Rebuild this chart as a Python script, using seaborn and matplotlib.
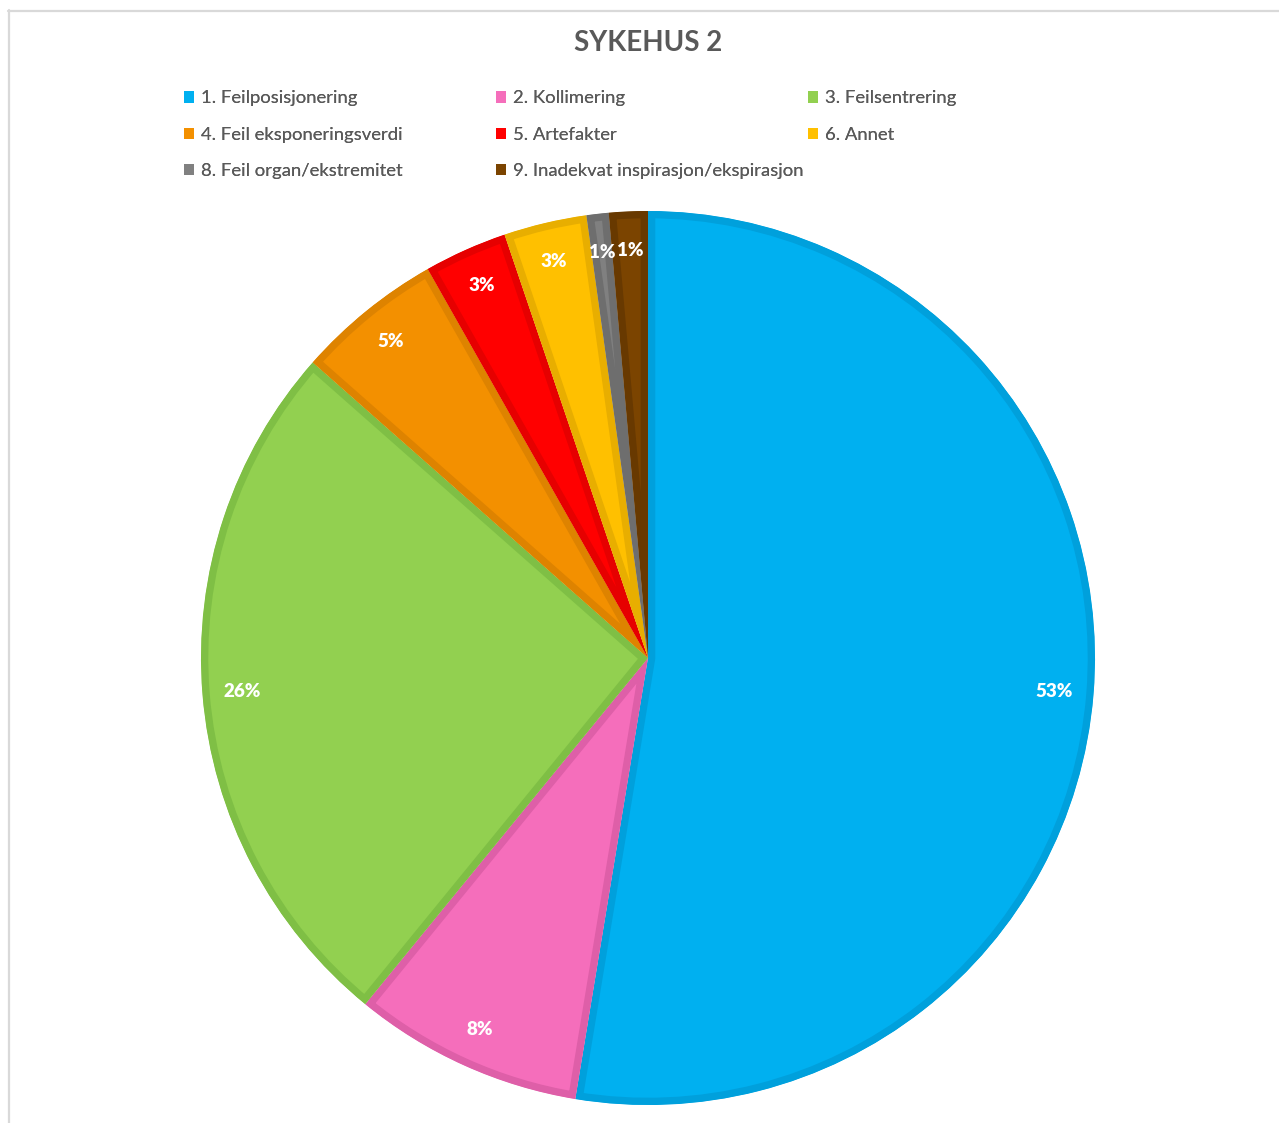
import matplotlib
matplotlib.use("Agg")
import matplotlib.pyplot as plt
import seaborn as sns
from matplotlib.patches import Patch
from matplotlib.lines import Line2D

categories = ["1. Feilposisjonering", "2. Kollimering", "3. Feilsentrering",
              "4. Feil eksponeringsverdi", "5. Artefakter", "6. Annet",
              "8. Feil organ/ekstremitet", "9. Inadekvat inspirasjon/ekspirasjon"]
values = [52.6, 8.3, 25.6, 5.3, 3.0, 3.0, 0.8, 1.4]
fill_colors = ["#00B0F0", "#F56EBB", "#92D050", "#F39000", "#FF0000", "#FFC000", "#808080", "#7B4400"]
edge_colors = ["#00A0DC", "#DE5FA8", "#7FBF45", "#DE8300", "#E60000", "#E8AE00", "#6E6E6E", "#683900"]
title = "SYKEHUS 2"

sns.set_theme(style="white")
plt.rcParams['font.family'] = ['Lato', 'DejaVu Sans']

W, H = 1279, 1123
fig = plt.figure(figsize=(W / 100, H / 100), dpi=100)
fig.patch.set_facecolor("white")

cx, cy, R = 648, H - 658, 447
lim = 1.02
half = R * lim
ax = fig.add_axes([(cx - half) / W, (cy - half) / H, 2 * half / W, 2 * half / H])

wedges, texts, autotexts = ax.pie(
    values, colors=sns.color_palette(fill_colors), startangle=90, counterclock=False,
    autopct=lambda p: f"{p:.0f}%", pctdistance=0.912, radius=1.0,
    textprops=dict(color="white", fontweight="heavy", fontsize=13.5),
    wedgeprops=dict(linewidth=10.5, joinstyle="miter"))
ax.set_xlim(-lim, lim)
ax.set_ylim(-lim, lim)
ax.set_aspect("auto")
for w, ec in zip(wedges, edge_colors):
    w.set_edgecolor(ec)
    w.set_clip_path(w)
    w.set_clip_on(True)
ax.axis("off")

fig.text(cx / W, 1 - 43 / H, title, ha="center", va="center", fontsize=20,
         fontweight="bold", color="#595959")

handles = [Patch(facecolor=c, edgecolor="none") for c in fill_colors]
cols = [[0, 3, 6], [1, 4, 7], [2, 5]]
col_x = [186, 498, 810]
for idx, x in zip(cols, col_x):
    leg = fig.legend([handles[i] for i in idx], [categories[i] for i in idx],
                     loc="upper left", bbox_to_anchor=((x - 2) / W, 1 - 90.5 / H),
                     frameon=False, fontsize=13.3, handlelength=0.55, handleheight=0.55,
                     handletextpad=0.35, labelspacing=1.09, borderpad=0, borderaxespad=0,
                     labelcolor="#595959")
    fig.add_artist(leg)

fig.add_artist(Line2D([8 / W, 1], [1 - 10.5 / H] * 2, transform=fig.transFigure,
                      color="#d9d9d9", lw=1.6))
fig.add_artist(Line2D([8.5 / W] * 2, [0, 1 - 10 / H], transform=fig.transFigure,
                      color="#d9d9d9", lw=1.6))

fig.savefig("out.png", dpi=100, facecolor="white")
